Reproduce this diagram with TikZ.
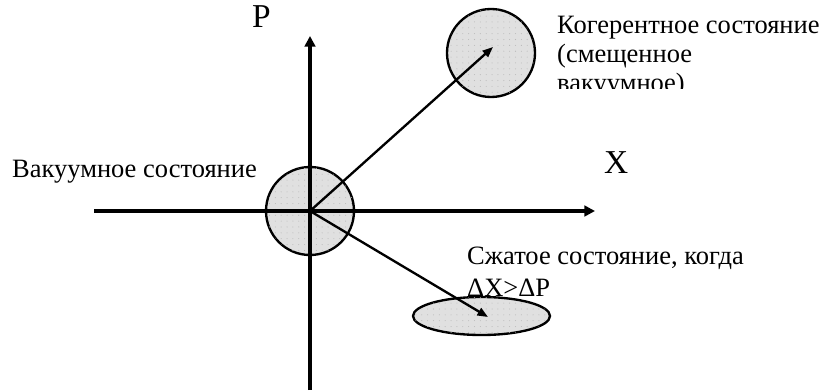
\documentclass[tikz,border=0pt]{standalone}
\usepackage{fontspec}
\setmainfont{Liberation Serif}
\usetikzlibrary{arrows.meta,shapes.geometric,patterns.meta}
\definecolor{diskfill}{RGB}{224,224,224}
\definecolor{diskdot}{RGB}{185,185,185}
\tikzset{
  statedisk/.style={circle,draw=black,line width=2pt,fill=diskfill,minimum size=2.64cm,inner sep=0pt,
    postaction={pattern={Dots[distance=5pt,radius=0.45pt]},pattern color=diskdot}},
  squeezedisk/.style={statedisk,ellipse,minimum width=4.11cm,minimum height=1.14cm},
  axisarr/.style={-{Triangle[length=9pt,width=9pt]},line width=3.8pt},
  arr/.style={-{Triangle[length=9pt,width=7pt]},line width=2pt},
  lbl/.style={inner sep=0pt,font=\fontsize{22.6}{24.75}\selectfont,align=left},
  axislbl/.style={inner sep=0pt,font=\fontsize{28.5}{30}\selectfont}
}

\begin{document}
\begin{tikzpicture}[x=0.03cm,y=-0.03cm]
  \useasboundingbox (0,0) rectangle (830,391);
  % state disks and labels
  \node[statedisk] (vac) at (310,211) {};
  \node[statedisk] (coh) at (491,53) {};
  \node[lbl,anchor=base west] (vaclbl) at (12,177) {Вакуумное состояние};
  \node[lbl,anchor=base west,font=\fontsize{22.6}{26.5}\selectfont] (sqlbl) at (467,296)
      {Сжатое состояние, когда\\ΔX>ΔP};
  \node[squeezedisk] (sq) at (481.5,316) {};
  \begin{scope}
    \clip (540,0) rectangle (830,88);
    \node[lbl,anchor=base west] (cohlbl) at (557,91)
        {Когерентное состояние\\(смещенное\\вакуумное)};
  \end{scope}
  \node[axislbl,anchor=base west] (plbl) at (252,27) {P};
  \node[axislbl,anchor=base west] (xlbl) at (604,173) {X};

  % axes
  \coordinate (xmin) at (94,211);
  \coordinate (xmax) at (595,211);
  \coordinate (pmin) at (310,390);
  \coordinate (pmax) at (310,36);
  \draw[axisarr] (xmin) -- (xmax);
  \draw[axisarr] (pmin) -- (pmax);

  % displacement and squeezing
  \coordinate (cohtip) at (493,47);
  \coordinate (sqtip) at (488,317);
  \draw[arr] (vac.center) -- (cohtip);
  \draw[arr] (vac.center) -- (sqtip);
\end{tikzpicture}
\end{document}
